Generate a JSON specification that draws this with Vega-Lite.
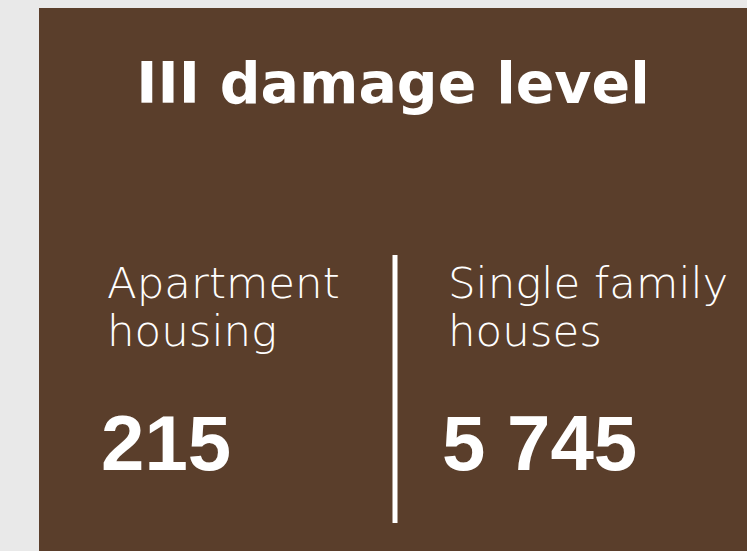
{
  "$schema": "https://vega.github.io/schema/vega-lite/v6.json",
  "width": 708,
  "height": 543,
  "autosize": "none",
  "padding": {"left": 39, "top": 8, "right": 0, "bottom": 0},
  "background": "#e9e9e9",
  "config": {"view": {"fill": "#5a3e2b", "stroke": null}},
  "data": {
    "values": [
      {"type": "Apartment housing", "label": "Apartment\nhousing", "count": 215, "display": "215"},
      {"type": "Single family houses", "label": "Single family\nhouses", "count": 5745, "display": "5 745"}
    ]
  },
  "encoding": {
    "x": {"field": "type", "type": "nominal", "scale": {"type": "point", "range": [68, 409], "padding": 0}, "axis": null}
  },
  "layer": [
    {
      "mark": {"type": "text", "align": "left", "baseline": "alphabetic", "lineBreak": "\n", "lineHeight": 48, "font": "DejaVu Sans", "fontWeight": 200, "fontSize": 43.5, "color": "#ffffff"},
      "encoding": {"y": {"value": 290}, "text": {"field": "label"}}
    },
    {
      "mark": {"type": "text", "align": "left", "baseline": "alphabetic", "dx": -6, "font": "Liberation Sans", "fontWeight": "bold", "fontSize": 78, "color": "#ffffff"},
      "encoding": {"y": {"value": 462}, "text": {"field": "display"}}
    },
    {
      "data": {"values": [{"title": "III damage level"}]},
      "mark": {"type": "text", "align": "center", "baseline": "alphabetic", "font": "DejaVu Sans", "fontWeight": "bold", "fontSize": 57, "color": "#ffffff"},
      "encoding": {"x": {"value": 354}, "y": {"value": 95}, "text": {"field": "title"}}
    },
    {
      "data": {"values": [{"divider": "between"}]},
      "mark": {"type": "rule", "color": "#ffffff", "strokeWidth": 5},
      "encoding": {"x": {"value": 356}, "y": {"value": 247}, "y2": {"value": 515}}
    }
  ]
}
